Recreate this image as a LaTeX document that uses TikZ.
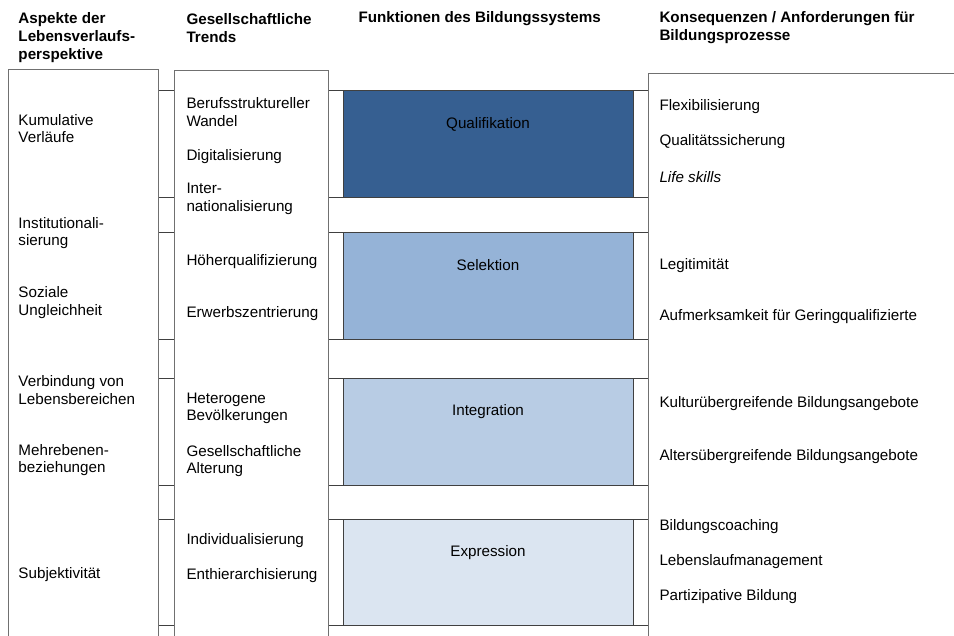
\documentclass[tikz,border=0pt]{standalone}
\usepackage{fontspec}
\setmainfont{Liberation Sans}
\usepackage{xcolor}
\usepackage{tikz}
\usetikzlibrary{positioning}
\tikzset{every picture/.style={line width=0.75pt}}
\definecolor{qual}{HTML}{365F91}
\definecolor{sel}{HTML}{95B3D7}
\definecolor{integ}{HTML}{B8CCE4}
\definecolor{expr}{HTML}{DBE5F1}
\definecolor{rim}{HTML}{404040}
\definecolor{colrim}{HTML}{707070}
\tikzset{
  txt/.style={anchor=west, inner sep=0pt, align=left},
  head/.style={txt, font=\fontsize{11.4}{13.6}\selectfont\bfseries},
  band/.style={draw=rim, fill=white},
  funbox/.style={draw=rim},
  colbox/.style={draw=colrim, fill=white}
}

\begin{document}
\begin{tikzpicture}[x=0.75pt, y=-0.75pt, font=\fontsize{11.4}{13.2}\selectfont]
\useasboundingbox (0,0) rectangle (954,636);
\clip (0,0) rectangle (954,636);
%
\foreach \Top/\Bottom/\Fill in {%
        90/197/qual,
        232/339/sel,
        378/485/integ,
        519/625/expr%
    }
{
\draw[band] (150,\Top) rectangle (660,\Bottom);
\draw[funbox, fill=\Fill] (343,\Top) rectangle (633,\Bottom);
}
%
\draw[colbox] (8,69) rectangle (158,660);
\draw[colbox] (174,70) rectangle (328,660);
\draw[colbox] (648,73) rectangle (980,660);
%
\node[head] (h1) at (18,37.5) {Aspekte der\\Lebensverlaufs-\\perspektive};
\node[head] (h2) at (186,28) {Gesellschaftliche\\Trends};
\node[head] (h3) at (358,19) {Funktionen des Bildungssystems};
\node[head] (h4) at (659,27.5) {Konsequenzen / Anforderungen für\\Bildungsprozesse};
%
\node[txt] (a1) at (18,128.5) {Kumulative\\Verläufe};
\node[txt] (a2) at (18,233) {Institutionali-\\sierung};
\node[txt] (a3) at (18,302.5) {Soziale\\Ungleichheit};
\node[txt] (a4) at (18,390) {Verbindung von\\Lebensbereichen};
\node[txt] (a5) at (18,460) {Mehrebenen-\\beziehungen};
\node[txt] (a6) at (18,575) {Subjektivität};
%
\node[txt] (t1) at (186,112) {Berufsstruktureller\\Wandel};
\node[txt] (t2) at (186,157) {Digitalisierung};
\node[txt] (t3) at (186,199) {Inter-\\nationalisierung};
\node[txt] (t4) at (186,262) {Höherqualifizierung};
\node[txt] (t5) at (186,314) {Erwerbszentrierung};
\node[txt] (t6) at (186,408.5) {Heterogene\\Bevölkerungen};
\node[txt] (t7) at (186,461) {Gesellschaftliche\\Alterung};
\node[txt] (t8) at (186,541) {Individualisierung};
\node[txt] (t9) at (186,576) {Enthierarchisierung};
%
\node (f1) at (488,124) {Qualifikation};
\node (f2) at (488,265) {Selektion};
\node (f3) at (488,412) {Integration};
\node (f4) at (488,553) {Expression};
%
\node[txt] (k1) at (659,107) {Flexibilisierung};
\node[txt] (k2) at (659,142) {Qualitätssicherung};
\node[txt] (k3) at (659,177) {\textit{Life skills}};
\node[txt] (k4) at (659,266) {Legitimität};
\node[txt] (k5) at (659,317) {Aufmerksamkeit für Geringqualifizierte};
\node[txt] (k6) at (659,404) {Kulturübergreifende Bildungsangebote};
\node[txt] (k7) at (659,457) {Altersübergreifende Bildungsangebote};
\node[txt] (k8) at (659,527) {Bildungscoaching};
\node[txt] (k9) at (659,562) {Lebenslaufmanagement};
\node[txt] (k10) at (659,597) {Partizipative Bildung};
\end{tikzpicture}
\end{document}
